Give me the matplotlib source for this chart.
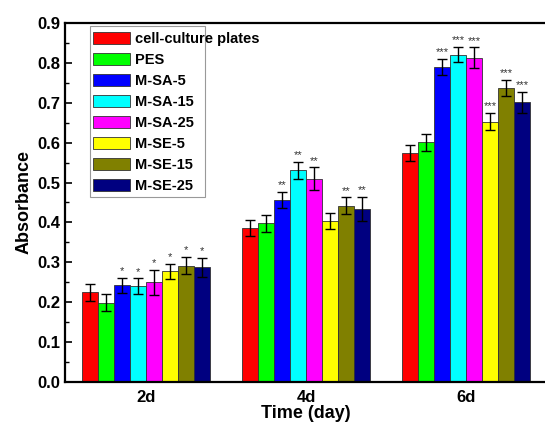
import numpy as np
import matplotlib.pyplot as plt
from matplotlib.patches import Rectangle

plt.rcParams['font.family'] = ['Liberation Sans', 'DejaVu Sans']
plt.rcParams['font.weight'] = 'bold'

days = ['2d', '4d', '6d']
samples = ['cell-culture plates', 'PES', 'M-SA-5', 'M-SA-15', 'M-SA-25',
           'M-SE-5', 'M-SE-15', 'M-SE-25']
colors = ['#FF0000', '#00FF00', '#0000FF', '#00FFFF', '#FF00FF',
          '#FFFF00', '#808000', '#000080']

# absorbance per sample, one value per day
means = [
    [0.225, 0.386, 0.575],
    [0.199, 0.398, 0.601],
    [0.242, 0.456, 0.790],
    [0.240, 0.531, 0.821],
    [0.250, 0.510, 0.813],
    [0.277, 0.404, 0.653],
    [0.292, 0.442, 0.738],
    [0.288, 0.434, 0.701],
]
errs = [
    [0.021, 0.021, 0.020],
    [0.021, 0.021, 0.021],
    [0.019, 0.020, 0.020],
    [0.020, 0.021, 0.020],
    [0.031, 0.028, 0.026],
    [0.020, 0.020, 0.021],
    [0.021, 0.021, 0.020],
    [0.024, 0.030, 0.027],
]
stars = [
    ['', '', ''],
    ['', '', ''],
    ['*', '**', '***'],
    ['*', '**', '***'],
    ['*', '**', '***'],
    ['*', '', '***'],
    ['*', '**', '***'],
    ['*', '**', '***'],
]


def main():
    fig = plt.figure(figsize=(5.45, 4.25), dpi=100)
    # right spine sits just outside the picture, as in the original
    ax = fig.add_axes([0.1193, 0.1012, 0.8844, 0.8447])
    x = np.arange(len(days))
    w = 0.1
    for i in range(len(samples)):
        pos = x + (i - 3.5) * w
        ax.bar(pos, means[i], w, color=colors[i], edgecolor='#333333',
               linewidth=0.6, label=samples[i])
        ax.errorbar(pos, means[i], yerr=errs[i], fmt='none', ecolor='black',
                    elinewidth=1.0, capsize=3.5, capthick=1.0)
        for j in range(len(days)):
            if stars[i][j]:
                ax.text(pos[j], means[i][j] + errs[i][j] + 0.004, stars[i][j],
                        ha='center', va='bottom', fontsize=8,
                        fontweight='normal', color='#333333')

    ax.set_xlim(-0.506, 2.506)
    ax.set_ylim(0, 0.9)
    ax.set_xticks(x)
    ax.set_xticklabels(days, fontsize=12, fontweight='bold')
    ax.set_yticks(np.arange(0, 0.91, 0.1))
    ax.set_yticks(np.arange(0.05, 0.9, 0.1), minor=True)
    ax.set_yticklabels(['%.1f' % v for v in np.arange(0, 0.91, 0.1)],
                       fontsize=12, fontweight='bold')
    ax.tick_params(axis='y', which='major', direction='in', length=5, width=1.2)
    ax.tick_params(axis='y', which='minor', direction='in', length=3, width=1.0)
    ax.tick_params(axis='x', length=0, pad=6)
    for s in ax.spines.values():
        s.set_linewidth(1.6)
    ax.set_xlabel('Time (day)', fontsize=13, fontweight='bold', labelpad=0)
    ax.set_ylabel('Absorbance', fontsize=13, fontweight='bold', labelpad=3)

    # legend frame in the original is narrower than the first label
    ax.add_patch(Rectangle((0.052, 0.515), 0.239, 0.477, transform=ax.transAxes,
                           facecolor='white', edgecolor='#999999',
                           linewidth=0.8, zorder=4))
    leg = ax.legend(loc='upper left', bbox_to_anchor=(0.046, 0.992),
                    prop={'size': 10.5, 'weight': 'bold'}, handlelength=2.53,
                    handleheight=0.9, handletextpad=0.32, labelspacing=0.48,
                    borderpad=0.4, borderaxespad=0, frameon=False)
    leg.set_zorder(5)

    fig.savefig('out.png', dpi=100)


if __name__ == '__main__':
    main()
